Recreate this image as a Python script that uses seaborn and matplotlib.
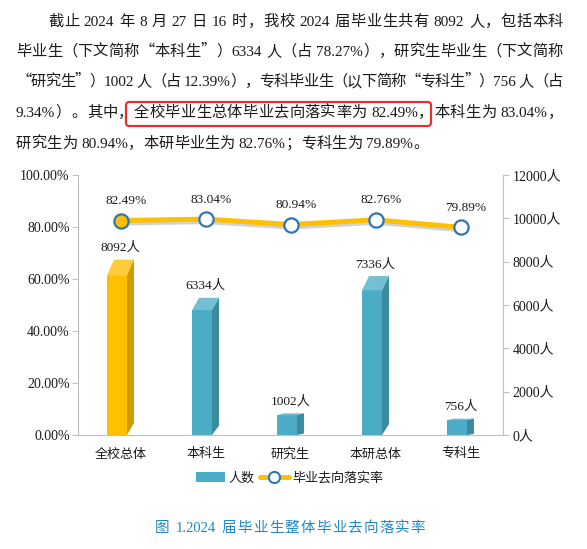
import re
import numpy as np
import pandas as pd
import matplotlib
matplotlib.use("Agg")
import matplotlib.pyplot as plt
import matplotlib.patheffects as pe
from matplotlib import font_manager, ft2font
from matplotlib.patches import Polygon, FancyBboxPatch, Patch
from matplotlib.lines import Line2D
from matplotlib.ticker import FixedLocator, FuncFormatter
import seaborn as sns

# -------------------------------
# Data
# -------------------------------
categories = ["全校总体", "本科生", "研究生", "本研总体", "专科生"]
counts = [8092, 6334, 1002, 7336, 756]
rates = [82.49, 83.04, 80.94, 82.76, 79.89]
pct_ticks = [0, 20, 40, 60, 80, 100]
count_ticks = [0, 2000, 4000, 6000, 8000, 10000, 12000]
legend_labels = ["人数", "毕业去向落实率"]

paragraph = [
    "截止 2024 年 8 月 27 日 16 时，我校 2024 届毕业生共有 8092 人，包括本科",
    "毕业生（下文简称“本科生”）6334 人（占 78.27%），研究生毕业生（下文简称",
    "“研究生”）1002 人（占 12.39%），专科毕业生（以下简称“专科生”）756 人（占",
    "9.34%）。其中，全校毕业生总体毕业去向落实率为 82.49%，本科生为 83.04%，",
    "研究生为 80.94%，本研毕业生为 82.76%；专科生为 79.89%。",
]
caption = "图 1.2024 届毕业生整体毕业去向落实率"

# -------------------------------
# Styling
# -------------------------------
sns.set_style("white")
LATIN = "Liberation Serif"
CJK = "Noto Sans CJK SC"
plt.rcParams["font.family"] = [LATIN, CJK]

W, H = 587, 549
YELLOW = "#FFC000"
TEAL = "#4BACC6"
BLUE = "#2E75B6"
GRID = "#BFBFBF"
TXT = "#1a1a1a"

fig = plt.figure(figsize=(W / 100, H / 100), dpi=100)

# -------------------------------
# Paragraph text (justified like the Word page)
# -------------------------------
_fonts = {}


def advance(ch, family, size):
    key = (family, size)
    if key not in _fonts:
        f = ft2font.FT2Font(font_manager.findfont(font_manager.FontProperties(family=family)))
        f.set_size(size, 100)
        _fonts[key] = f
    return _fonts[key].load_char(ord(ch)).linearHoriAdvance / 65536


def draw_line(s, x0, base, size, x1=None, color=TXT):
    em = size * 100 / 72
    toks = re.findall(r"[!-~]+| |.", s)
    info = []
    for t in toks:
        fam = LATIN if ord(t[0]) < 128 else CJK
        w = sum(advance(c, fam, size) for c in t)
        shift = 0
        # curly quotes sit in a full-width cell in the original
        if t in "“‘":
            shift, w = em - w, em
        elif t in "”’":
            w = em
        info.append((t, fam, w, shift))
    extra = 0
    if x1 is not None and len(info) > 1:
        extra = (x1 - x0 - sum(i[2] for i in info)) / (len(info) - 1)
    x = x0
    for t, fam, w, shift in info:
        if t != " ":
            fig.text((x + shift) / W, 1 - base / H, t, family=fam, fontsize=size,
                     color=color, va="baseline", ha="left")
        x += w + extra


line_starts = [48, 16, 16, 16, 16]
line_ends = [563, 563, 563, 563, None]
baselines = [26, 56, 86, 117, 148]
for s, x0, x1, b in zip(paragraph, line_starts, line_ends, baselines):
    draw_line(s, x0, b, 11.0, x1)

box = FancyBboxPatch((126 / W, 1 - 126 / H), (431 - 126) / W, 24 / H,
                     boxstyle="round,pad=0,rounding_size=0.006",
                     transform=fig.transFigure, fill=False,
                     edgecolor="#E8302A", linewidth=1.6)
fig.add_artist(box)

# -------------------------------
# Chart
# -------------------------------
ax = fig.add_axes([78 / W, 1 - 435 / H, 425 / W, 260 / H])
ax2 = ax.twinx()

df = pd.DataFrame({"cat": categories, "count": counts, "rate": rates})
front_colors = [YELLOW] + [TEAL] * 4
top_colors = ["#FFCB3A"] + ["#73C0D4"] * 4
side_colors = ["#CF9C00"] + ["#3B8BA0"] * 4

sns.barplot(data=df, x="cat", y="count", hue="cat", palette=front_colors,
            legend=False, width=0.235, saturation=1, ax=ax2)

dx = 0.082
for i, p in enumerate(ax2.patches):
    v = p.get_height()
    p.set_x(p.get_x() - dx / 2)
    p.set_height(v * 0.91)
    p.set_linewidth(0)
    x0 = p.get_x()
    x1 = x0 + p.get_width()
    f = v * 0.91
    ax2.add_patch(Polygon([(x0, f), (x1, f), (x1 + dx, v), (x0 + dx, v)],
                          closed=True, facecolor=top_colors[i], edgecolor="none"))
    ax2.add_patch(Polygon([(x1, 0), (x1, f), (x1 + dx, v), (x1 + dx, v * 0.068)],
                          closed=True, facecolor=side_colors[i], edgecolor="none"))
    ax2.annotate(f"{counts[i]}人", (i, v), xytext=(0, 4), textcoords="offset points",
                 ha="center", va="bottom", fontsize=9.6, color=TXT)

idx = np.arange(len(categories))
sns.lineplot(x=idx, y=rates, ax=ax, color=YELLOW, linewidth=3.6,
             path_effects=[pe.SimpleLineShadow(offset=(0.6, -1.8), shadow_color="#7f7f7f", alpha=0.35),
                           pe.Normal()])
sns.scatterplot(x=idx[:1], y=rates[:1], ax=ax, color=YELLOW, edgecolor=BLUE,
                s=105, linewidth=1.6, zorder=5)
sns.scatterplot(x=idx[1:], y=rates[1:], ax=ax, color="white", edgecolor=BLUE,
                s=105, linewidth=1.6, zorder=5)
for i, r in enumerate(rates):
    ax.annotate(f"{r:.2f}%", (i, r), xytext=(4, 14), textcoords="offset points",
                ha="center", va="center", fontsize=9.6, color=TXT)

ax.set_zorder(ax2.get_zorder() + 1)
ax.patch.set_visible(False)

ax.set_xlim(-0.5, 4.5)
ax.set_ylim(0, 100)
ax2.set_ylim(0, 12000)

ax.yaxis.set_major_locator(FixedLocator(pct_ticks))
ax.yaxis.set_major_formatter(FuncFormatter(lambda v, _: f"{v:.2f}%"))
ax2.yaxis.set_major_locator(FixedLocator(count_ticks))
ax2.yaxis.set_major_formatter(FuncFormatter(lambda v, _: f"{int(v)}人"))

ax.set_xticks(idx)
ax.set_xticklabels(categories, family=CJK, fontsize=9.4, color=TXT)
ax.set_xticks(idx[:-1] + 0.5, minor=True)
ax.tick_params(axis="x", which="major", length=0, pad=9)
ax.tick_params(axis="x", which="minor", length=5, color=GRID, width=0.8)
ax.tick_params(axis="y", length=4, color=GRID, width=0.8, pad=2, labelsize=10, labelcolor=TXT)
ax2.tick_params(axis="y", length=4, color=GRID, width=0.8, pad=3, labelsize=10, labelcolor=TXT)

ax.set_xlabel("")
ax.set_ylabel("")
ax2.set_xlabel("")
ax2.set_ylabel("")

for name, sp in ax.spines.items():
    sp.set_visible(name in ("left", "bottom"))
    sp.set_color(GRID)
for name, sp in ax2.spines.items():
    sp.set_visible(name == "right")
    sp.set_color(GRID)

# -------------------------------
# Legend and caption
# -------------------------------
handles = [Patch(facecolor=TEAL, edgecolor="none"),
           Line2D([], [], color=YELLOW, linewidth=3.6, marker="o", markersize=8,
                  markerfacecolor="white", markeredgecolor=BLUE, markeredgewidth=1.5)]
fig.legend(handles, legend_labels, loc="center", bbox_to_anchor=(290 / W, 1 - 478 / H),
           ncol=2, frameon=False, prop={"family": CJK, "size": 9.4},
           handlelength=2.2, handleheight=0.8, handletextpad=0.3, columnspacing=0.4,
           labelcolor=TXT)

draw_line(caption, 155, 532, 10.5, 425, color="#1F88C9")

fig.savefig("out.png", dpi=100)
